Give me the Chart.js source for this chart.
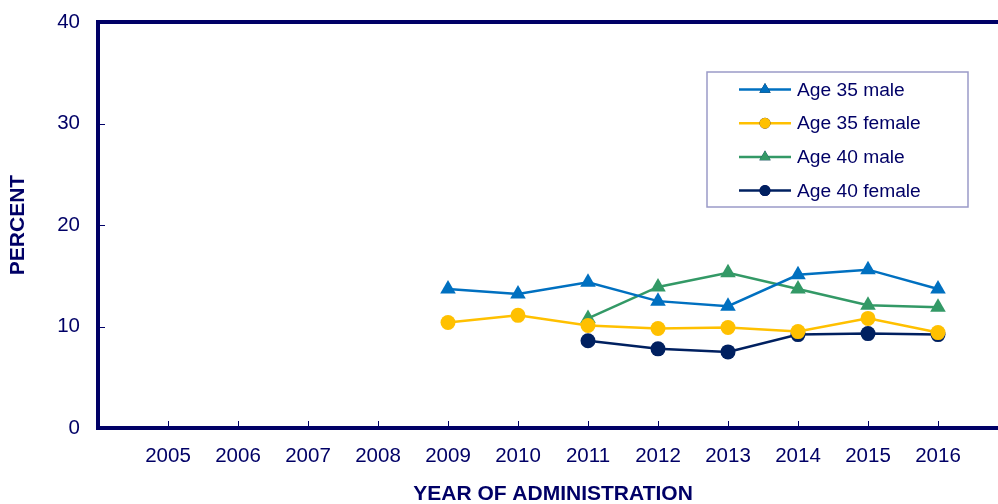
<!DOCTYPE html>
<html>
<head>
<meta charset="utf-8">
<script src="https://cdn.jsdelivr.net/npm/chart.js@4/dist/chart.umd.min.js"></script>
<style>
    html, body { margin: 0; padding: 0; background: #fff; overflow: hidden; }
    #wrap { width: 998px; height: 504px; overflow: hidden; }
</style>
</head>
<body>
<div id="wrap"><canvas id="chart" width="1017" height="504"></canvas></div>
<script>
"use strict";


const YEARS = [2005, 2006, 2007, 2008, 2009, 2010, 2011, 2012, 2013, 2014, 2015, 2016];
const Y_TICKS = [0, 10, 20, 30, 40];

const AGE35_MALE   = [null, null, null, null, 13.7, 13.2, 14.35, 12.5, 12.0, 15.1, 15.6, 13.7];
const AGE35_FEMALE = [null, null, null, null, 10.4, 11.1, 10.1, 9.8, 9.9, 9.5, 10.8, 9.4];
const AGE40_MALE   = [null, null, null, null, null, null, 10.8, 13.9, 15.3, 13.7, 12.1, 11.9];
const AGE40_FEMALE = [null, null, null, null, null, null, 8.6, 7.8, 7.5, 9.2, 9.3, 9.2];

const NAVY = '#000066';
const FONT = "'Liberation Sans', Arial, sans-serif";


function points(values) {
    return YEARS.map((year, i) => ({ x: year, y: values[i] })).filter(p => p.y !== null);
}

function series(label, values, color, style) {
    return {
        label: label,
        data: points(values),
        borderColor: color,
        backgroundColor: color,
        borderWidth: 2.5,
        pointStyle: style,
        pointRadius: style === 'triangle' ? 9 : 7.5,
        pointHoverRadius: style === 'triangle' ? 9 : 7.5,
        pointBorderWidth: 0,
        tension: 0
    };
}

// no extra room for overflowing tick labels, the frame sits where the layout puts it
function noLabelPadding(scale) {
    scale.paddingTop = 0;
    scale.paddingBottom = 0;
    scale.paddingLeft = 0;
    scale.paddingRight = 0;
}


// thick frame with small inward ticks, like the original chart
const framePlugin = {
    id: 'frame',
    beforeDatasetsDraw(chart) {
        const { ctx, chartArea: a, scales } = chart;
        ctx.save();
        ctx.strokeStyle = NAVY;
        ctx.lineWidth = 4;
        ctx.beginPath();
        ctx.moveTo(a.right, a.top);
        ctx.lineTo(a.left, a.top);
        ctx.lineTo(a.left, a.bottom);
        ctx.lineTo(a.right, a.bottom);
        ctx.stroke();

        ctx.lineWidth = 1;
        ctx.beginPath();
        scales.y.ticks.forEach(t => {
            const y = Math.round(scales.y.getPixelForValue(t.value)) + 0.5;
            ctx.moveTo(a.left, y);
            ctx.lineTo(a.left + 7, y);
        });
        scales.x.ticks.forEach(t => {
            const x = Math.round(scales.x.getPixelForValue(t.value)) + 0.5;
            ctx.moveTo(x, a.bottom);
            ctx.lineTo(x, a.bottom - 7);
        });
        ctx.stroke();
        ctx.restore();
    }
};

// boxed legend with a line through each marker
const legendPlugin = {
    id: 'boxLegend',
    afterDatasetsDraw(chart) {
        const ctx = chart.ctx;
        const box = { x: 707, y: 72, w: 261, h: 135 };
        ctx.save();
        ctx.strokeStyle = '#9a9ac8';
        ctx.lineWidth = 1.5;
        ctx.strokeRect(box.x, box.y, box.w, box.h);

        ctx.font = '19.2px ' + FONT;
        ctx.textBaseline = 'middle';
        chart.data.datasets.forEach((ds, i) => {
            const y = 89.5 + i * 33.7;
            ctx.strokeStyle = ds.borderColor;
            ctx.lineWidth = ds.borderWidth;
            ctx.beginPath();
            ctx.moveTo(739, y);
            ctx.lineTo(791, y);
            ctx.stroke();
            Chart.helpers.drawPoint(ctx, {
                pointStyle: ds.pointStyle,
                radius: ds.pointStyle === 'triangle' ? 6.5 : 5.5,
                borderWidth: 0,
                rotation: 0
            }, 765, y);
            ctx.fillStyle = ds.borderColor;
            ctx.fill();
            ctx.fillStyle = NAVY;
            ctx.fillText(ds.label, 797, y + 1);
        });
        ctx.restore();
    }
};


const ctx = document.getElementById('chart').getContext('2d');
const chart = new Chart(ctx, {
    type: 'line',
    data: {
        datasets: [
            series('Age 35 male', AGE35_MALE, '#0070c0', 'triangle'),
            series('Age 35 female', AGE35_FEMALE, '#ffc000', 'circle'),
            series('Age 40 male', AGE40_MALE, '#339966', 'triangle'),
            series('Age 40 female', AGE40_FEMALE, '#002060', 'circle')
        ]
    },
    plugins: [framePlugin, legendPlugin],
    options: {
        responsive: false,
        animation: false,
        layout: {
            padding: { left: 0, top: 22, right: 2, bottom: 0 }
        },
        scales: {
            x: {
                type: 'linear',
                min: 2004,
                max: 2017,
                afterBuildTicks: scale => {
                    scale.ticks = YEARS.map(v => ({ value: v }));
                },
                afterFit: scale => {
                    scale.height = 76;
                    noLabelPadding(scale);
                },
                grid: { display: false, drawTicks: false },
                border: { display: false },
                ticks: {
                    color: NAVY,
                    font: { family: FONT, size: 20.5 },
                    padding: 16,
                    maxRotation: 0,
                    callback: v => String(v)
                },
                title: {
                    display: true,
                    text: 'YEAR OF ADMINISTRATION',
                    color: NAVY,
                    font: { family: FONT, size: 21, weight: 'bold', lineHeight: 0.9 },
                    padding: { top: 0, bottom: 0 }
                }
            },
            y: {
                min: 0,
                max: 40,
                afterBuildTicks: scale => {
                    scale.ticks = Y_TICKS.map(v => ({ value: v }));
                },
                afterFit: scale => {
                    scale.width = 98;
                    noLabelPadding(scale);
                },
                grid: { display: false, drawTicks: false },
                border: { display: false },
                ticks: {
                    color: NAVY,
                    font: { family: FONT, size: 20.5 },
                    padding: 18
                },
                title: {
                    display: true,
                    text: 'PERCENT',
                    color: NAVY,
                    font: { family: FONT, size: 21, weight: 'bold', lineHeight: 1.2 },
                    padding: { top: 6, bottom: 0 }
                }
            }
        },
        plugins: {
            legend: { display: false },
            tooltip: { enabled: false }
        }
    }
});
</script>
</body>
</html>
